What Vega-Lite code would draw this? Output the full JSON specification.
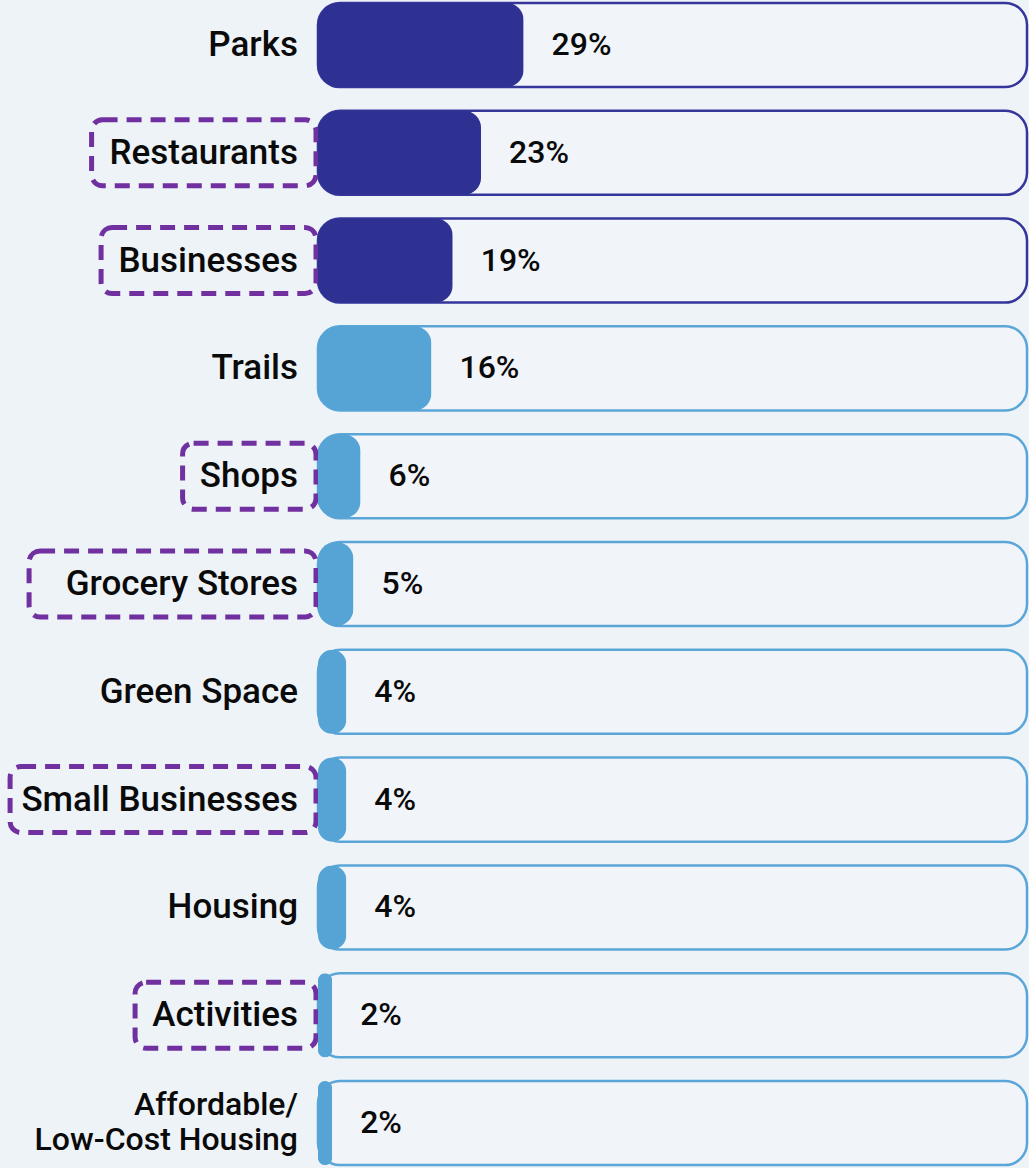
{
  "$schema": "https://vega.github.io/schema/vega-lite/v6.json",
  "width": 1029,
  "height": 1168,
  "padding": 0,
  "autosize": {"type": "none"},
  "background": "#eef3f8",
  "config": {"view": {"stroke": null}, "font": "Roboto"},
  "data": {
    "values": [
      {"label": "Parks", "value": 29, "tier": "top", "highlight": false},
      {"label": "Restaurants", "value": 23, "tier": "top", "highlight": true},
      {"label": "Businesses", "value": 19, "tier": "top", "highlight": true},
      {"label": "Trails", "value": 16, "tier": "other", "highlight": false},
      {"label": "Shops", "value": 6, "tier": "other", "highlight": true},
      {"label": "Grocery Stores", "value": 5, "tier": "other", "highlight": true},
      {"label": "Green Space", "value": 4, "tier": "other", "highlight": false},
      {"label": "Small Businesses", "value": 4, "tier": "other", "highlight": true},
      {"label": "Housing", "value": 4, "tier": "other", "highlight": false},
      {"label": "Activities", "value": 2, "tier": "other", "highlight": true},
      {"label": "Affordable/\nLow-Cost Housing", "value": 2, "tier": "other", "highlight": false}
    ]
  },
  "encoding": {
    "y": {"field": "label", "type": "nominal", "sort": null, "axis": null,
          "scale": {"paddingInner": 0.22, "paddingOuter": 0.027}}
  },
  "layer": [
    {
      "mark": {"type": "bar", "cornerRadius": 22, "strokeWidth": 2.5, "fill": "#f1f5fa"},
      "encoding": {
        "x": {"datum": 0, "type": "quantitative", "scale": {"domain": [-44.85, 100.28], "nice": false, "zero": false}, "axis": null},
        "x2": {"datum": 100},
        "stroke": {"field": "tier", "type": "nominal", "scale": {"domain": ["top", "other"], "range": ["#35359a", "#5ba6d8"]}, "legend": null}
      }
    },
    {
      "transform": [
        {"filter": "datum.highlight"},
        {"calculate": "-(40 + 5.4 + 18.0*length(datum.label) - 8.5*(length(datum.label) - length(replace(datum.label, regexp('[iltfj]','g'), ''))))/7.09", "as": "boxL"}
      ],
      "mark": {"type": "bar", "height": 66, "cornerRadius": 11, "fill": "transparent", "stroke": "#7030a0", "strokeWidth": 5, "strokeDash": [15, 9]},
      "encoding": {
        "x": {"field": "boxL", "type": "quantitative"},
        "x2": {"datum": -0.28}
      }
    },
    {
      "mark": {"type": "bar", "cornerRadiusTopLeft": 22, "cornerRadiusBottomLeft": 22, "cornerRadiusTopRight": 17, "cornerRadiusBottomRight": 17},
      "encoding": {
        "x": {"field": "value", "type": "quantitative"},
        "color": {"field": "tier", "type": "nominal", "scale": {"domain": ["top", "other"], "range": ["#2e3192", "#56a3d5"]}, "legend": null}
      }
    },
    {
      "transform": [{"filter": "indexof(datum.label, '\\n') < 0"}],
      "mark": {"type": "text", "align": "right", "baseline": "middle", "dx": -20, "fontSize": 35, "fontWeight": 500, "color": "#0a0a0a"},
      "encoding": {
        "x": {"datum": 0, "type": "quantitative"},
        "text": {"field": "label"}
      }
    },
    {
      "transform": [{"filter": "indexof(datum.label, '\\n') >= 0"}],
      "mark": {"type": "text", "align": "right", "baseline": "middle", "dx": -20, "dy": -18, "fontSize": 32, "fontWeight": 500, "color": "#0a0a0a", "lineBreak": "\n", "lineHeight": 35},
      "encoding": {
        "x": {"datum": 0, "type": "quantitative"},
        "text": {"field": "label"}
      }
    },
    {
      "transform": [{"calculate": "datum.value + '%'", "as": "pct"}],
      "mark": {"type": "text", "align": "left", "baseline": "middle", "dx": 28, "fontSize": 32, "fontWeight": 500, "color": "#0a0a0a"},
      "encoding": {
        "x": {"field": "value", "type": "quantitative"},
        "text": {"field": "pct"}
      }
    }
  ]
}
